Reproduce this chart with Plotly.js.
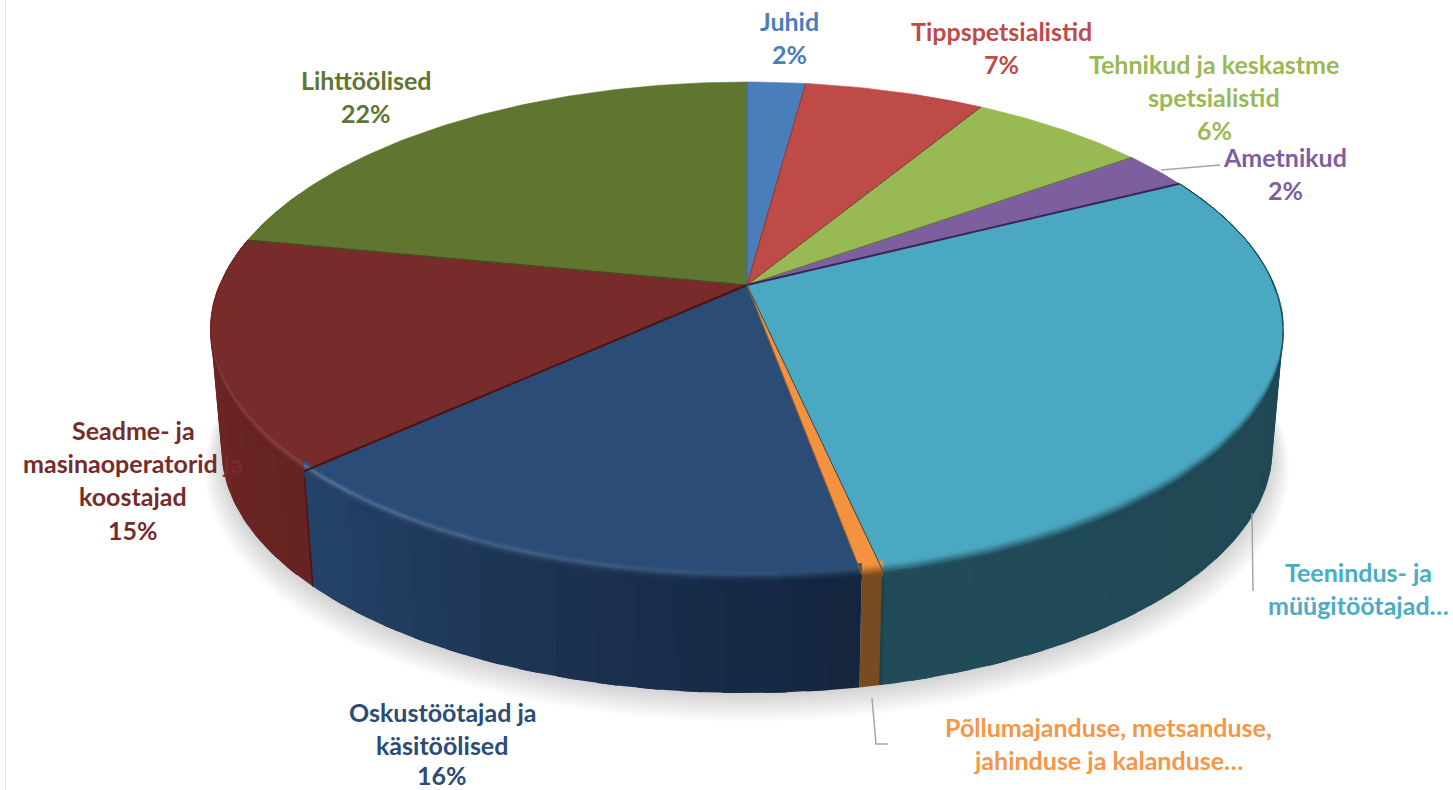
<!DOCTYPE html>
<html>
<head>
<meta charset="utf-8">
<script src="https://cdn.plot.ly/plotly-3.0.1.min.js"></script>
<style>html,body{margin:0;padding:0;background:#fff;overflow:hidden}</style>
</head>
<body>
<div id="chart" style="width:1453px;height:790px"></div>
<script>
// ---------- data ----------
const categories = ["Juhid","Tippspetsialistid","Tehnikud ja keskastme spetsialistid","Ametnikud",
  "Teenindus- ja müügitöötajad","Põllumajanduse, metsanduse, jahinduse ja kalanduse oskustöötajad",
  "Oskustöötajad ja käsitöölised","Seadme- ja masinaoperatorid ja koostajad","Lihttöölised"];
const shares = [2.1,6.5,6.4,2.45,29.15,0.55,16.0,14.95,21.9];
const labelLines = [
  ["Juhid","2%"],
  ["Tippspetsialistid","7%"],
  ["Tehnikud ja keskastme","spetsialistid","6%"],
  ["Ametnikud","2%"],
  ["Teenindus- ja","müügitöötajad…"],
  ["Põllumajanduse, metsanduse,","jahinduse ja kalanduse…"],
  ["Oskustöötajad ja","käsitöölised","16%"],
  ["Seadme- ja","masinaoperatorid ja","koostajad","15%"],
  ["Lihttöölised","22%"]
];
// ---------- styles and layout ----------
const topColors  = ["#4A7EBB","#BE4B48","#98B954","#7D5FA0","#4AA8C3","#F59240","#2A4C77","#772B2A","#5F7530"];
const textColors = ["#4A7EBB","#BE4B48","#98B954","#7D5FA0","#4AACC5","#F79646","#2A4C77","#772B2A","#5F7530"];
const edgeColors = ["#3F6CA3","#8F3633","#7A3030","#5F7A30","#3C2452","#1E4A58","#A8601E","#4A1414","#3A4A1A"];
const wallFrom   = ["#2C4A70","#702C2A","#5A6E32","#4A3860","#1E4450","#7A4A20","#14243C","#652322","#384620"];
const wallTo     = ["#2C4A70","#702C2A","#5A6E32","#4A3860","#214B59","#7A4A20","#254369","#742826","#384620"];
const highlight  = [[0,0],[0,0],[0,0],[0,0],[0,0.02],[0,0],[0.03,0.22],[0.12,0.08],[0,0]];
const labelX = [789,1001,1214,1285,1358,1108,442,133,366];
const labelY = [21,31,64,157,572,727,712,430,80];
const lineStep = 33.2;
const lowestTextY = 775;
const leaders = [
  {x:[1161,1220],y:[170,165]},
  {x:[1252,1253],y:[513,591]},
  {x:[872,876,888],y:[698,744,744]}
];
const cx=747, cy=285, A=527, B=240.5, K=0.1847, S=0.98, DROP=119;

// ---------- projection of the pie onto the page ----------
function P(th, r, s, dy){
  r = r===undefined?1:r; s = s===undefined?1:s; dy = dy||0;
  const u=r*Math.sin(th), v=r*Math.cos(th), w=1+K*v;
  return [cx+s*A*u/w, cy-s*B*v/w+dy];
}
const hex=c=>[1,3,5].map(i=>parseInt(c.substr(i,2),16));
const mix=(a,b,t)=>{const p=hex(a),q=hex(b);return 'rgb('+p.map((x,i)=>Math.round(x+(q[i]-x)*t)).join(',')+')';};
const mixRgb=(a,b,t)=>{const p=a.match(/\d+/g).map(Number),q=hex(b);return 'rgb('+p.map((x,i)=>Math.round(x+(q[i]-x)*t)).join(',')+')';};
const total=shares.reduce((a,b)=>a+b,0);
const bounds=[0];
shares.forEach(v=>bounds.push(bounds[bounds.length-1]+v/total*2*Math.PI));
const traces=[];
function poly(pts,fill,lineW,lineC){
  traces.push({type:'scatter',mode:'lines',x:pts.map(p=>p[0]),y:pts.map(p=>p[1]),fill:'toself',
    fillcolor:fill,line:{color:lineC||fill,width:lineW===undefined?0.7:lineW},hoverinfo:'skip',showlegend:false});
}
function line(xs,ys,c,w){
  traces.push({type:'scatter',mode:'lines',x:xs,y:ys,line:{color:c,width:w},hoverinfo:'skip',showlegend:false});
}
const DEG=Math.PI/180;
// soft shadow below the solid
for(let i=0;i<11;i++){
  const pts=[];const s=S*(1+0.0032*i),dy=DROP+2+i*1.7;
  for(let a=0;a<=360;a+=3)pts.push(P(a*DEG,1,s,dy));
  poly(pts,'rgba(0,0,0,0.016)',0);
}
// side wall pieces, far ones first; each overlaps its neighbours to hide seams
const quads=[];
shares.forEach((_,i)=>{
  const a0=bounds[i],a1=bounds[i+1];
  const n=Math.max(1,Math.ceil((a1-a0)/(4*DEG)));
  for(let j=0;j<n;j++){
    const t0=a0+(a1-a0)*j/n,t1=a0+(a1-a0)*(j+1)/n;
    quads.push({v:Math.cos((t0+t1)/2),t0:Math.max(a0,t0-DEG),t1:Math.min(a1,t1+DEG),col:mix(wallFrom[i],wallTo[i],(j+0.5)/n)});
  }
});
quads.filter(q=>q.v<0.4).sort((a,b)=>b.v-a.v).forEach(q=>{
  const pts=[],back=[];
  for(let k=0;k<=4;k++){
    const th=q.t0+(q.t1-q.t0)*k/4;
    pts.push(P(th));back.unshift(P(th,1,S,DROP));
  }
  poly(pts.concat(back),q.col,0);
});
// vertical wall seams
[[5,'#1C4450',3],[7,'#4A1414',1.5]].forEach(([b,c,w])=>{
  const p=P(bounds[b]),q=P(bounds[b],1,S,DROP);
  line([p[0],q[0]],[p[1],q[1]],c,w);
});
// top faces
shares.forEach((_,i)=>{
  const a0=bounds[i],a1=bounds[i+1],pts=[P(0,0)];
  const n=Math.max(2,Math.ceil((a1-a0)/DEG));
  for(let j=0;j<=n;j++)pts.push(P(a0+(a1-a0)*j/n));
  poly(pts,topColors[i],0.6);
});
// rounded rim
const bands=[-11,-9,-7,-5,-3,-1,1,3,5];
const fade=th=>Math.max(0,Math.min(1,(0.05-Math.cos(th))/0.5));
shares.forEach((_,i)=>{
  const a0=bounds[i],a1=bounds[i+1];
  if(Math.cos((a0+a1)/2)>0.5)return;
  const chunks=Math.max(1,Math.ceil((a1-a0)/(8*DEG)));
  for(let c=0;c<chunks;c++){
    const t0=a0+(a1-a0)*c/chunks,t1=a0+(a1-a0)*(c+1)/chunks,frac=(c+0.5)/chunks;
    const wall=mix(wallFrom[i],wallTo[i],frac);
    const wHex='#'+wall.match(/\d+/g).map(x=>(+x).toString(16).padStart(2,'0')).join('');
    const hl=highlight[i][0]+(highlight[i][1]-highlight[i][0])*frac;
    for(let b=0;b<bands.length-1;b++){
      const t=b/(bands.length-2);
      const st=t*t*(3-2*t);
      let col=mix(topColors[i],wHex,st);
      col=mixRgb(col,'#ffffff',hl*Math.exp(-Math.pow((t-0.3)/0.18,2)));
      const up=[],dn=[];
      for(let k=0;k<=6;k++){
        const th=t0+(t1-t0)*k/6,f=fade(th),p=P(th);
        up.push([p[0],p[1]+bands[b]*f]);
        dn.unshift([p[0],p[1]+bands[b+1]*f]);
      }
      poly(up.concat(dn),col,0.3);
    }
  }
});
// slice separators on the top face
shares.forEach((_,i)=>{
  const p=P(0,0),q=P(bounds[i]);
  line([p[0],q[0]],[p[1],q[1]],edgeColors[i],(i===4||i===7)?2:1);
});
// leader lines
leaders.forEach(l=>line(l.x,l.y,'#A6A6A6',1.5));
// page frame at the far left
line([5.5,5.5],[0,790],'#E4E4E4',1.2);

const annotations=[];
labelLines.forEach((lines,i)=>{
  lines.forEach((txt,j)=>{
    annotations.push({x:labelX[i],y:Math.min(lowestTextY,labelY[i]+j*lineStep),xref:'x',yref:'y',text:'<b>'+txt+'</b>',showarrow:false,
      xanchor:'center',yanchor:'middle',font:{family:'Lato, Carlito, sans-serif',size:25,color:textColors[i]}});
  });
});
Plotly.newPlot('chart',traces,{
  width:1453,height:790,margin:{l:0,r:0,t:0,b:0},paper_bgcolor:'#fff',plot_bgcolor:'#fff',showlegend:false,
  xaxis:{range:[0,1453],visible:false,fixedrange:true},
  yaxis:{range:[790,0],visible:false,fixedrange:true},
  annotations:annotations,hovermode:false
},{staticPlot:true,displayModeBar:false});
</script>
</body>
</html>
